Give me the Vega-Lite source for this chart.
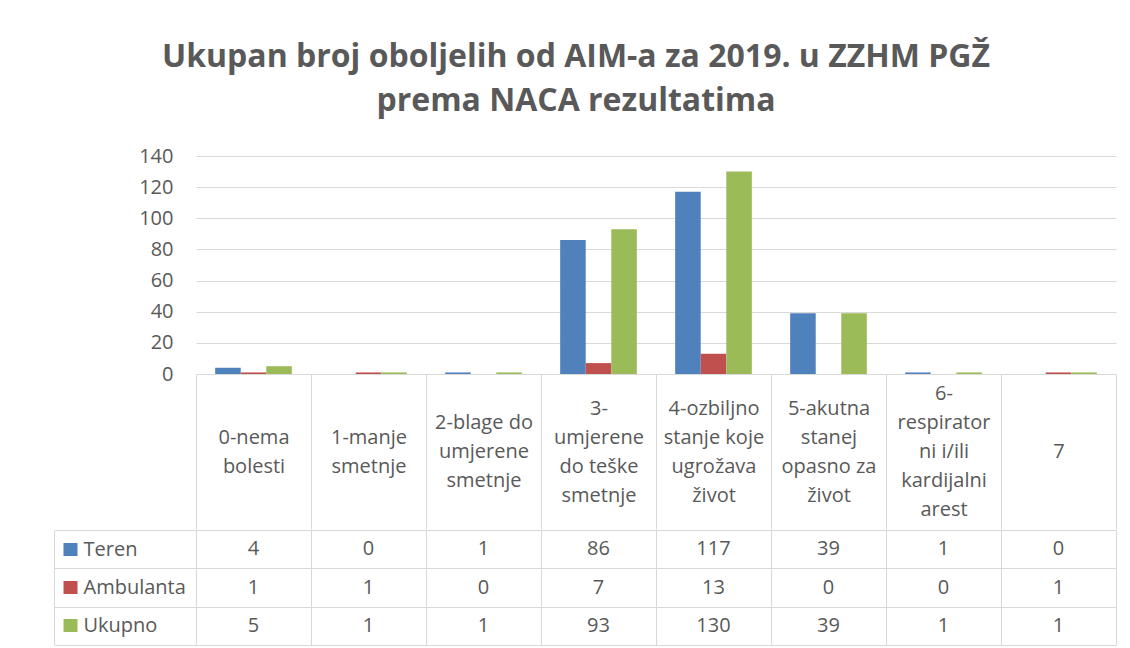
{
  "$schema": "https://vega.github.io/schema/vega-lite/v6.json",
  "padding": {"left": 53, "top": 40, "right": 5, "bottom": 0},
  "background": "white",
  "title": {
    "text": ["Ukupan broj oboljelih od AIM-a za 2019. u ZZHM PGŽ", "prema NACA rezultatima"],
    "font": "Open Sans",
    "fontSize": 32,
    "fontWeight": "bold",
    "color": "#595959",
    "lineHeight": 44,
    "anchor": "middle",
    "offset": 28.5,
    "dx": -9
  },
  "config": {
    "font": "Open Sans",
    "view": {"stroke": null},
    "axis": {
      "labelColor": "#595959",
      "labelFont": "Open Sans",
      "labelFontSize": 20,
      "domainColor": "#d9d9d9",
      "tickColor": "#d9d9d9",
      "gridColor": "#d9d9d9",
      "titleColor": "#595959"
    }
  },
  "data": {
    "values": [
      {"kat": "0-nema bolesti", "serija": "Teren", "vrijednost": 4},
      {"kat": "1-manje smetnje", "serija": "Teren", "vrijednost": 0},
      {"kat": "2-blage do umjerene smetnje", "serija": "Teren", "vrijednost": 1},
      {"kat": "3-umjerene do teške smetnje", "serija": "Teren", "vrijednost": 86},
      {"kat": "4-ozbiljno stanje koje ugrožava život", "serija": "Teren", "vrijednost": 117},
      {"kat": "5-akutna stanej opasno za život", "serija": "Teren", "vrijednost": 39},
      {"kat": "6-respiratorni i/ili kardijalni arest", "serija": "Teren", "vrijednost": 1},
      {"kat": "7", "serija": "Teren", "vrijednost": 0},
      {"kat": "0-nema bolesti", "serija": "Ambulanta", "vrijednost": 1},
      {"kat": "1-manje smetnje", "serija": "Ambulanta", "vrijednost": 1},
      {"kat": "2-blage do umjerene smetnje", "serija": "Ambulanta", "vrijednost": 0},
      {"kat": "3-umjerene do teške smetnje", "serija": "Ambulanta", "vrijednost": 7},
      {"kat": "4-ozbiljno stanje koje ugrožava život", "serija": "Ambulanta", "vrijednost": 13},
      {"kat": "5-akutna stanej opasno za život", "serija": "Ambulanta", "vrijednost": 0},
      {"kat": "6-respiratorni i/ili kardijalni arest", "serija": "Ambulanta", "vrijednost": 0},
      {"kat": "7", "serija": "Ambulanta", "vrijednost": 1},
      {"kat": "0-nema bolesti", "serija": "Ukupno", "vrijednost": 5},
      {"kat": "1-manje smetnje", "serija": "Ukupno", "vrijednost": 1},
      {"kat": "2-blage do umjerene smetnje", "serija": "Ukupno", "vrijednost": 1},
      {"kat": "3-umjerene do teške smetnje", "serija": "Ukupno", "vrijednost": 93},
      {"kat": "4-ozbiljno stanje koje ugrožava život", "serija": "Ukupno", "vrijednost": 130},
      {"kat": "5-akutna stanej opasno za život", "serija": "Ukupno", "vrijednost": 39},
      {"kat": "6-respiratorni i/ili kardijalni arest", "serija": "Ukupno", "vrijednost": 1},
      {"kat": "7", "serija": "Ukupno", "vrijednost": 1}
    ]
  },
  "spacing": -12,
  "resolve": {"scale": {"x": "independent", "y": "independent", "color": "independent"}},
  "vconcat": [
    {
      "width": 920,
      "height": 218,
      "mark": {"type": "bar"},
      "encoding": {
        "x": {
          "field": "kat",
          "type": "nominal",
          "sort": ["0-nema bolesti", "1-manje smetnje", "2-blage do umjerene smetnje", "3-umjerene do teške smetnje", "4-ozbiljno stanje koje ugrožava život", "5-akutna stanej opasno za život", "6-respiratorni i/ili kardijalni arest", "7"],
          "scale": {"paddingInner": 0, "paddingOuter": 0},
          "axis": {
            "title": null,
            "orient": "bottom",
            "domain": true,
            "ticks": true,
            "tickBand": "extent",
            "tickSize": 155,
            "labelAngle": 0,
            "labelAlign": "center",
            "labelBaseline": "middle",
            "labelPadding": {
              "condition": [
                {"test": "datum.value == '0-nema bolesti' || datum.value == '1-manje smetnje'", "value": -92},
                {"test": "datum.value == '2-blage do umjerene smetnje'", "value": -106.5},
                {"test": "datum.value == '6-respiratorni i/ili kardijalni arest'", "value": -135.5},
                {"test": "datum.value == '7'", "value": -77.5}
              ],
              "value": -121
            },
            "labelLineHeight": 29,
            "labelOverlap": false,
            "labelLimit": 0,
            "labelBound": false,
            "labelExpr": "datum.value == '0-nema bolesti' ? ['0-nema', 'bolesti'] : datum.value == '1-manje smetnje' ? ['1-manje', 'smetnje'] : datum.value == '2-blage do umjerene smetnje' ? ['2-blage do', 'umjerene', 'smetnje'] : datum.value == '3-umjerene do teške smetnje' ? ['3-', 'umjerene', 'do teške', 'smetnje'] : datum.value == '4-ozbiljno stanje koje ugrožava život' ? ['4-ozbiljno', 'stanje koje', 'ugrožava', 'život'] : datum.value == '5-akutna stanej opasno za život' ? ['5-akutna', 'stanej', 'opasno za', 'život'] : datum.value == '6-respiratorni i/ili kardijalni arest' ? ['6-', 'respirator', 'ni i/ili', 'kardijalni', 'arest'] : datum.value"
          }
        },
        "xOffset": {
          "field": "serija",
          "type": "nominal",
          "sort": ["Teren", "Ambulanta", "Ukupno"],
          "scale": {"paddingInner": 0, "paddingOuter": 0.75}
        },
        "y": {
          "field": "vrijednost",
          "type": "quantitative",
          "scale": {"domain": [0, 140], "nice": false},
          "axis": {
            "title": null,
            "values": [0, 20, 40, 60, 80, 100, 120, 140],
            "grid": true,
            "domain": false,
            "ticks": false,
            "labelPadding": 23
          }
        },
        "color": {
          "field": "serija",
          "type": "nominal",
          "sort": ["Teren", "Ambulanta", "Ukupno"],
          "scale": {"domain": ["Teren", "Ambulanta", "Ukupno"], "range": ["#4f81bd", "#c0504d", "#9bbb59"]},
          "legend": null
        }
      }
    },
    {
      "width": 920,
      "height": 115,
      "resolve": {"axis": {"y": "independent"}},
      "layer": [
        {
          "mark": {"type": "rect", "fillOpacity": 0},
          "encoding": {
            "x": {
              "field": "kat",
              "type": "nominal",
              "sort": ["0-nema bolesti", "1-manje smetnje", "2-blage do umjerene smetnje", "3-umjerene do teške smetnje", "4-ozbiljno stanje koje ugrožava život", "5-akutna stanej opasno za život", "6-respiratorni i/ili kardijalni arest", "7"],
              "scale": {"paddingInner": 0, "paddingOuter": 0},
              "axis": {"title": null, "labels": false, "ticks": false, "domain": false, "grid": true, "tickBand": "extent"}
            },
            "y": {
              "field": "serija",
              "type": "nominal",
              "sort": ["Teren", "Ambulanta", "Ukupno"],
              "scale": {"paddingInner": 0, "paddingOuter": 0},
              "axis": {
                "title": null,
                "orient": "left",
                "offset": 119,
                "domain": false,
                "labels": false,
                "grid": false,
                "ticks": true,
                "tickBand": "center",
                "tickSize": 14,
                "tickWidth": 13,
                "tickCap": "butt",
                "tickColor": {
                  "condition": [
                    {"test": "datum.value === 'Teren'", "value": "#4f81bd"},
                    {"test": "datum.value === 'Ambulanta'", "value": "#c0504d"}
                  ],
                  "value": "#9bbb59"
                }
              }
            }
          }
        },
        {
          "mark": {"type": "text", "fontSize": 20, "color": "#595959", "font": "Open Sans"},
          "encoding": {
            "x": {
              "field": "kat",
              "type": "nominal",
              "sort": ["0-nema bolesti", "1-manje smetnje", "2-blage do umjerene smetnje", "3-umjerene do teške smetnje", "4-ozbiljno stanje koje ugrožava život", "5-akutna stanej opasno za život", "6-respiratorni i/ili kardijalni arest", "7"],
              "scale": {"paddingInner": 0, "paddingOuter": 0},
              "axis": {"title": null, "labels": false, "ticks": false, "domain": false, "grid": true, "tickBand": "extent"}
            },
            "y": {
              "field": "serija",
              "type": "nominal",
              "sort": ["Teren", "Ambulanta", "Ukupno"],
              "scale": {"paddingInner": 0, "paddingOuter": 0},
              "axis": {
                "title": null,
                "orient": "left",
                "offset": 142,
                "domain": true,
                "grid": true,
                "tickBand": "extent",
                "ticks": true,
                "tickSize": -142,
                "labelAlign": "left",
                "labelBaseline": "middle",
                "labelPadding": 113
              }
            },
            "text": {"field": "vrijednost", "type": "quantitative"}
          }
        }
      ]
    }
  ]
}
